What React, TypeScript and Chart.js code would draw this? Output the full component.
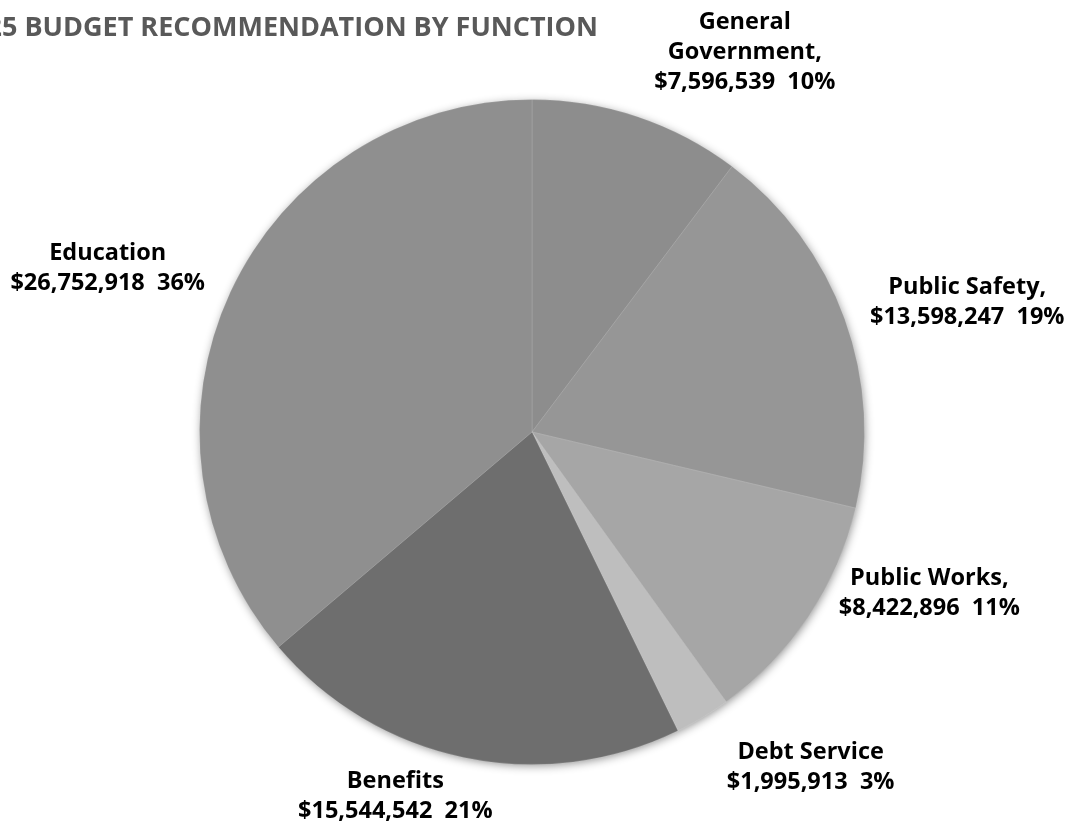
import React, { useEffect, useRef } from "react";
import { Chart, registerables } from "chart.js";

Chart.register(...registerables);

const categories = ["General Government", "Public Safety", "Public Works", "Debt Service", "Benefits", "Education"];
const values = [7596539, 13598247, 8422896, 1995913, 15544542, 26752918];
const percentLabels = ["10%", "19%", "11%", "3%", "21%", "36%"];
const nameLines = [["General", "Government,"], ["Public Safety,"], ["Public Works,"], ["Debt Service"], ["Benefits"], ["Education"]];
const sliceColors = ["#8d8d8d", "#969696", "#a6a6a6", "#bebebe", "#6e6e6e", "#8f8f8f"];
// label block centers, in units of pie radius relative to pie center
const labelOffsets = [[0.64, -1.141], [1.309, -0.39], [1.195, 0.486], [0.838, 1.009], [-0.411, 1.096], [-1.276, -0.491]];
const titleText = "FY2025 BUDGET RECOMMENDATION BY FUNCTION";

const W = 1073;
const H = 828;
const FONT = '"Open Sans", "Noto Sans", sans-serif';

function fmt(v: number) {
  return "$" + v.toLocaleString("en-US");
}

const shadowPlugin = {
  id: "pieShadow",
  beforeDatasetsDraw(chart: any) {
    const meta = chart.getDatasetMeta(0);
    const arc = meta.data[0];
    if (!arc) return;
    const { x, y, outerRadius } = arc.getProps(["x", "y", "outerRadius"], true);
    const ctx = chart.ctx;
    ctx.save();
    ctx.shadowColor = "rgba(0,0,0,0.45)";
    ctx.shadowBlur = 10;
    ctx.shadowOffsetX = 1;
    ctx.shadowOffsetY = 2;
    ctx.beginPath();
    ctx.arc(x, y, outerRadius - 1, 0, Math.PI * 2);
    ctx.fillStyle = "#8f8f8f";
    ctx.fill();
    ctx.restore();
  },
};

const labelPlugin = {
  id: "sliceLabels",
  afterDraw(chart: any) {
    const meta = chart.getDatasetMeta(0);
    const arc0 = meta.data[0];
    if (!arc0) return;
    const { x, y, outerRadius } = arc0.getProps(["x", "y", "outerRadius"], true);
    const ctx = chart.ctx;
    ctx.save();
    ctx.fillStyle = "#000000";
    ctx.font = `bold 23.5px ${FONT}`;
    ctx.textAlign = "center";
    ctx.textBaseline = "middle";
    const lh = 30;
    categories.forEach((_, i) => {
      const lines = [...nameLines[i], fmt(values[i]) + "  " + percentLabels[i]];
      const cx = x + labelOffsets[i][0] * outerRadius;
      const cy = y + labelOffsets[i][1] * outerRadius;
      const top = cy - ((lines.length - 1) * lh) / 2;
      lines.forEach((ln, j) => ctx.fillText(ln, cx, top + j * lh));
    });
    // title
    ctx.fillStyle = "#595959";
    ctx.font = `bold 27px ${FONT}`;
    ctx.textAlign = "right";
    ctx.fillText(titleText, 598, 28);
    ctx.restore();
  },
};

export default function App() {
  const ref = useRef<HTMLCanvasElement>(null);
  useEffect(() => {
    document.body.style.margin = "0";
    const chart = new Chart(ref.current as HTMLCanvasElement, {
      type: "pie",
      data: {
        labels: categories,
        datasets: [
          {
            data: values,
            backgroundColor: sliceColors,
            borderColor: "rgba(255,255,255,0.12)",
            borderWidth: 1,
          },
        ],
      },
      options: {
        responsive: false,
        animation: false,
        layout: { padding: { top: 99, bottom: 63, left: 199, right: 208 } },
        plugins: { legend: { display: false }, tooltip: { enabled: false }, title: { display: false } },
      },
      plugins: [shadowPlugin, labelPlugin],
    });
    return () => chart.destroy();
  }, []);
  return (
    <div style={{ width: W, height: H, background: "#fff" }}>
      <canvas ref={ref} width={W} height={H} style={{ display: "block" }} />
    </div>
  );
}
